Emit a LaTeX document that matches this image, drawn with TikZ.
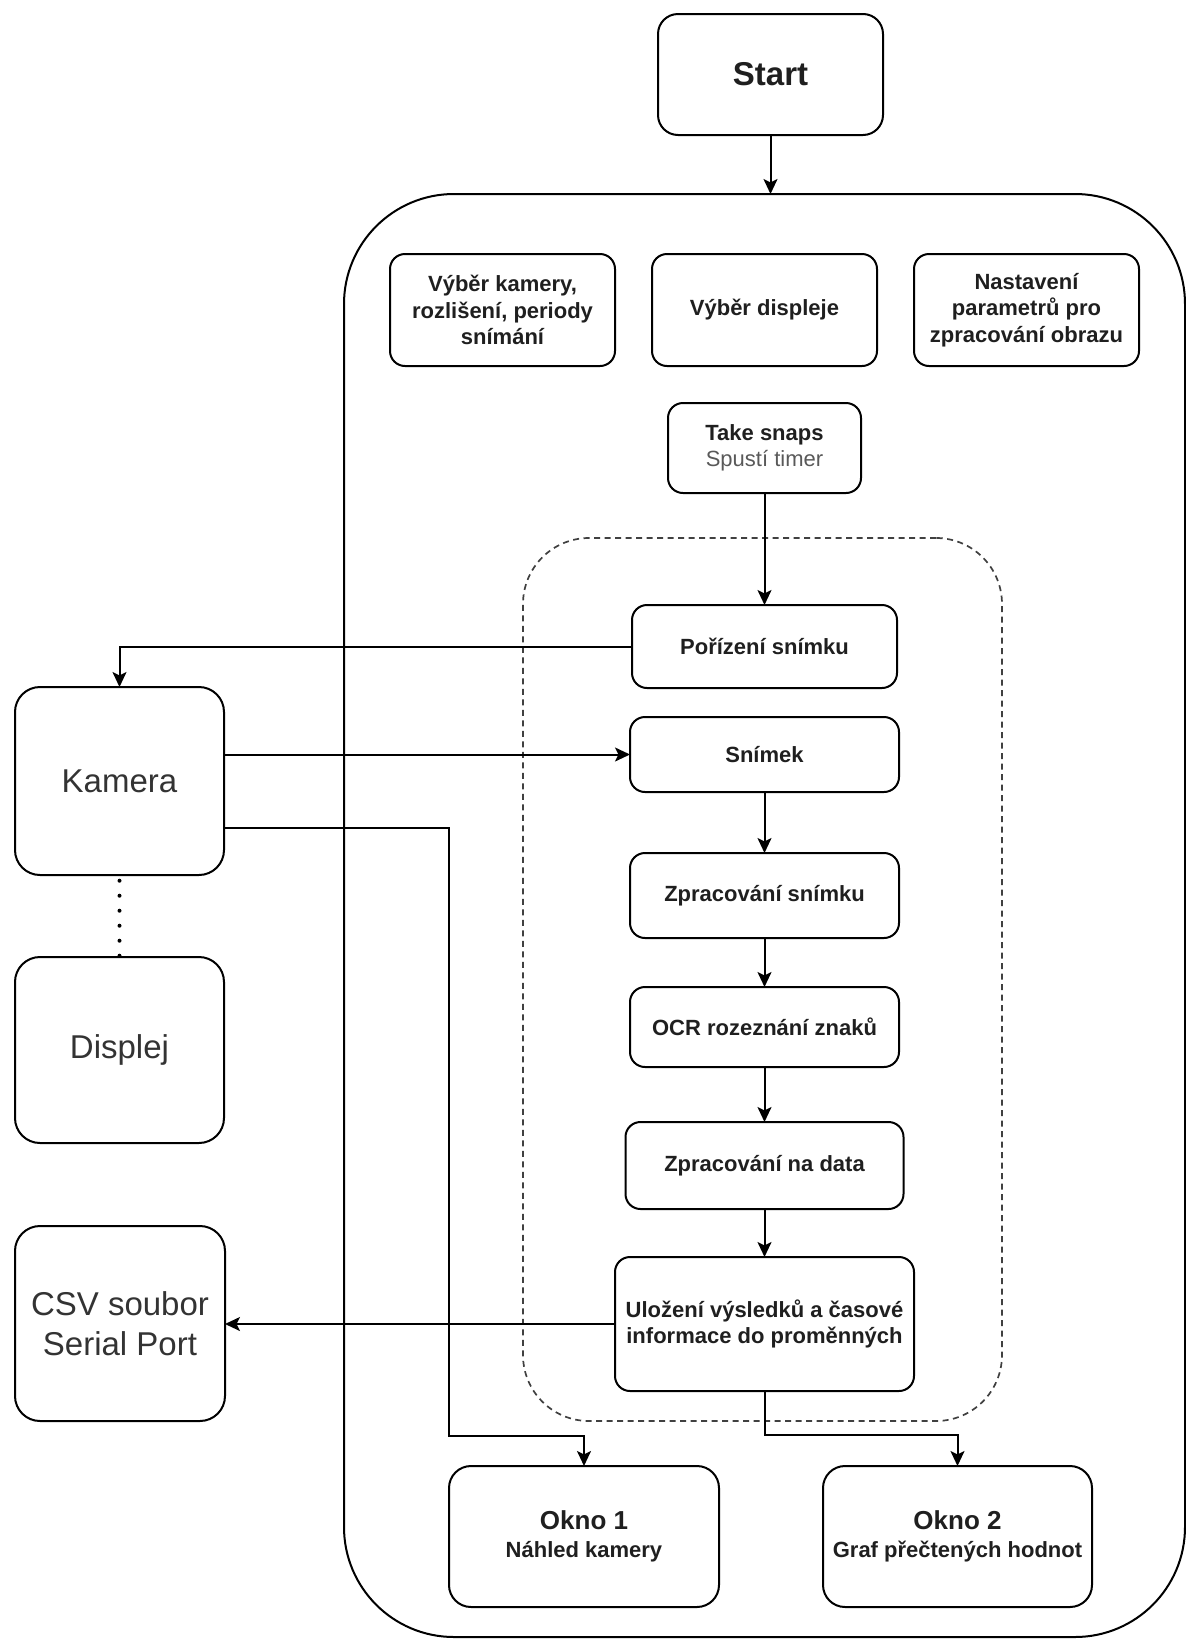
\documentclass[tikz,border=0pt]{standalone}
\usepackage{fontspec}
\setmainfont{Liberation Sans}
\usetikzlibrary{arrows.meta, positioning}
\definecolor{boldink}{HTML}{1F1F1F}
\definecolor{deviceink}{HTML}{333333}
\definecolor{subink}{HTML}{595959}
\definecolor{dashgray}{HTML}{404040}

\begin{document}
\begin{tikzpicture}[x=1pt, y=-1pt, >={Stealth[length=15pt, width=14pt, inset=3.5pt]}]
  % Box Styles
  \tikzstyle{flowbox} = [draw=black, rounded corners=15pt, align=center, inner sep=0pt,
    outer sep=0pt, line width=2pt, text=boldink, font=\fontsize{22}{26.4}\selectfont\bfseries]
  \tikzstyle{devicebox} = [flowbox, rounded corners=25pt, minimum width=209pt,
    text=deviceink, font=\fontsize{33}{39.6}\selectfont\mdseries]
  \tikzstyle{arrowline} = [->, line width=2pt]

  \useasboundingbox (0,0) rectangle (1186,1639);

  % Start and the application frame
  \node[flowbox, rounded corners=20pt, minimum width=225pt, minimum height=121pt,
        font=\fontsize{33}{39.6}\selectfont\bfseries] (start) at (770.5,74.5) {Start};
  \node[draw=black, line width=2pt, rounded corners=110pt, inner sep=0pt, outer sep=0pt,
        minimum width=841pt, minimum height=1443pt] (main) at (764.5,915.5) {};

  % Settings
  \node[flowbox, minimum width=225pt, minimum height=112pt] (camset) at (502.5,310)
    {Výběr kamery,\\rozlišení, periody\\snímání};
  \node[flowbox, minimum width=225pt, minimum height=112pt, right=37pt of camset] (dispset)
    {Výběr displeje};
  \node[flowbox, minimum width=225pt, minimum height=112pt, right=37pt of dispset] (imgset)
    {Nastavení\\parametrů pro\\zpracování obrazu};
  \node[flowbox, minimum width=193pt, minimum height=90pt, below=37pt of dispset] (snap)
    {Take snaps\\{\mdseries\color{subink}Spustí timer}};

  % Timer loop
  \node[draw=dashgray, line width=1.7pt, dash pattern=on 6pt off 4.5pt, rounded corners=66pt,
        inner sep=0pt, outer sep=0pt, minimum width=479pt, minimum height=883pt] (loop) at (762.5,979.5) {};
  \node[flowbox, minimum width=265pt, minimum height=83pt] (grab) at (764.5,646.5) {Pořízení snímku};
  \node[flowbox, minimum width=269pt, minimum height=75pt, below=29pt of grab] (frame) {Snímek};
  \node[flowbox, minimum width=269pt, minimum height=85pt, below=61pt of frame] (proc) {Zpracování snímku};
  \node[flowbox, minimum width=269pt, minimum height=80pt, below=49pt of proc] (ocr) {OCR rozeznání znaků};
  \node[flowbox, minimum width=278pt, minimum height=87pt, below=55pt of ocr] (data) {Zpracování na data};
  \node[flowbox, minimum width=299pt, minimum height=134pt, below=48pt of data] (save)
    {Uložení výsledků a časové\\informace do proměnných};

  % Output windows
  \node[flowbox, rounded corners=22pt, minimum width=270pt, minimum height=141pt] (view) at (584,1536.5)
    {{\fontsize{26}{31.2}\selectfont Okno 1}\\[2pt]Náhled kamery};
  \node[flowbox, rounded corners=22pt, minimum width=269pt, minimum height=141pt, right=104pt of view] (graph)
    {{\fontsize{26}{31.2}\selectfont Okno 2}\\[2pt]Graf přečtených hodnot};

  % Devices
  \node[devicebox, minimum height=188pt] (camera) at (119.5,781) {Kamera};
  \node[devicebox, minimum height=186pt, below=82pt of camera] (display) {Displej};
  \node[devicebox, minimum width=210pt, minimum height=195pt] (csv) at (120,1323.5) {CSV soubor\\Serial Port};

  % Connectors
  \draw[arrowline] (start.south) -- (start.south |- main.north);
  \draw[arrowline] (snap.south) -- (snap.south |- grab.north);
  \draw[arrowline] (grab.west) -| (camera.north);
  \draw[arrowline] (camera.east |- frame.west) -- (frame.west);
  \draw[arrowline] ([yshift=-47pt]camera.east) -| ([yshift=30pt]view.north west) -| (view.north);
  \draw[arrowline] (frame.south) -- (proc.north);
  \draw[arrowline] (proc.south) -- (ocr.north);
  \draw[arrowline] (ocr.south) -- (data.north);
  \draw[arrowline] (data.south) -- (save.north);
  \draw[arrowline] (save.west) -- (csv.east |- save.west);
  \draw[arrowline] (save.south) -- ++(0,44) -| (graph.north);
  \draw[line width=4pt, line cap=round, dash pattern=on 0pt off 15pt, dash phase=9.3pt]
    (camera.south) -- (display.north);

\end{tikzpicture}
\end{document}
